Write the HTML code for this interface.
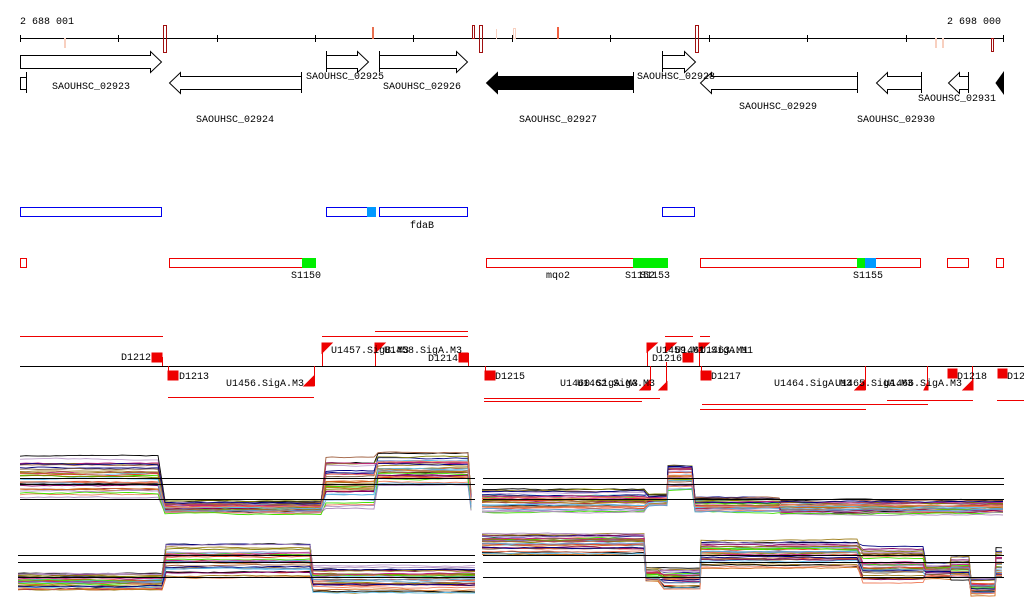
<!DOCTYPE html>
<html><head><meta charset="utf-8"><style>
html,body{margin:0;padding:0;background:#fff;}
svg{display:block;}
text{font-family:"Liberation Mono",monospace;font-size:10px;fill:#000;}
</style></head><body>
<svg id="s" width="1024" height="611" xmlns="http://www.w3.org/2000/svg">
<text x="20" y="24">2 688 001</text>
<text x="947" y="24">2 698 000</text>
<line x1="20" y1="38.5" x2="1004" y2="38.5" stroke="#000"/>
<g stroke="#000">
<line x1="20.5" y1="35" x2="20.5" y2="42"/><line x1="118.5" y1="35" x2="118.5" y2="42"/><line x1="217.5" y1="35" x2="217.5" y2="42"/><line x1="315.5" y1="35" x2="315.5" y2="42"/><line x1="413.5" y1="35" x2="413.5" y2="42"/><line x1="512.5" y1="35" x2="512.5" y2="42"/><line x1="610.5" y1="35" x2="610.5" y2="42"/><line x1="709.5" y1="35" x2="709.5" y2="42"/><line x1="807.5" y1="35" x2="807.5" y2="42"/><line x1="906.5" y1="35" x2="906.5" y2="42"/><line x1="1003.5" y1="35" x2="1003.5" y2="42"/>
</g>
<g fill="none">
<rect x="163.5" y="25.5" width="3" height="27" stroke="#a01010"/>
<rect x="472.5" y="25.5" width="2" height="13" stroke="#a01010"/>
<rect x="479.5" y="25.5" width="3" height="27" stroke="#a01010"/>
<rect x="695.5" y="25.5" width="3" height="27" stroke="#a01010"/>
<rect x="991.5" y="38.5" width="2" height="13" stroke="#a01010"/>
<rect x="372.5" y="27.5" width="1" height="11" stroke="#e87050"/>
<rect x="64.5" y="38.5" width="1" height="9" stroke="#f8d0c0"/>
<rect x="496" y="29" width="1" height="10" fill="#f8d0c0"/>
<rect x="513.5" y="28.5" width="2" height="10" stroke="#f8d0c0"/>
<rect x="935.5" y="38.5" width="1" height="9" stroke="#f8d0c0"/>
<rect x="942.5" y="38.5" width="1" height="9" stroke="#f8d0c0"/>
<rect x="557" y="27" width="2" height="12" fill="#f06040"/>
</g>
<g stroke="#000" fill="#fff">
<polygon points="20.5,55.5 150.5,55.5 150.5,51.5 161.5,62 150.5,72.5 150.5,68.5 20.5,68.5"/>
<rect x="20.5" y="77.5" width="6" height="12"/><line x1="26.5" y1="72" x2="26.5" y2="93"/>
<polygon points="301.5,76.5 180.5,76.5 180.5,72.5 169.5,83 180.5,93.5 180.5,89.5 301.5,89.5"/><line x1="301.5" y1="72" x2="301.5" y2="93"/>
<polygon points="326.5,55.5 357.5,55.5 357.5,51.5 368.5,62 357.5,72.5 357.5,68.5 326.5,68.5"/><line x1="326.5" y1="51" x2="326.5" y2="72"/>
<polygon points="379.5,55.5 456.5,55.5 456.5,51.5 467.5,62 456.5,72.5 456.5,68.5 379.5,68.5"/><line x1="379.5" y1="51" x2="379.5" y2="72"/>
<polygon points="633.5,76.5 497.5,76.5 497.5,72.5 486.5,83 497.5,93.5 497.5,89.5 633.5,89.5" fill="#000"/><line x1="633.5" y1="72" x2="633.5" y2="93"/>
<polygon points="662.5,55.5 684.5,55.5 684.5,51.5 695.5,62 684.5,72.5 684.5,68.5 662.5,68.5"/><line x1="662.5" y1="51" x2="662.5" y2="72"/>
<polygon points="857.5,76.5 711.5,76.5 711.5,72.5 700.5,83 711.5,93.5 711.5,89.5 857.5,89.5"/><line x1="857.5" y1="72" x2="857.5" y2="93"/>
<polygon points="921.5,76.5 887.5,76.5 887.5,72.5 876.5,83 887.5,93.5 887.5,89.5 921.5,89.5"/><line x1="921.5" y1="72" x2="921.5" y2="93"/>
<polygon points="968.5,76.5 959.5,76.5 959.5,72.5 948.5,83 959.5,93.5 959.5,89.5 968.5,89.5"/><line x1="968.5" y1="72" x2="968.5" y2="93"/>
<polygon points="1003.5,72.5 996,83 1003.5,93.5" fill="#000"/>
</g>
<text x="52" y="89">SAOUHSC_02923</text>
<text x="196" y="122">SAOUHSC_02924</text>
<text x="306" y="79">SAOUHSC_02925</text>
<text x="383" y="89">SAOUHSC_02926</text>
<text x="519" y="122">SAOUHSC_02927</text>
<text x="637" y="79">SAOUHSC_02928</text>
<text x="739" y="109">SAOUHSC_02929</text>
<text x="857" y="122">SAOUHSC_02930</text>
<text x="918" y="101">SAOUHSC_02931</text>
<g fill="none" stroke="#0000ee">
<rect x="20.5" y="207.5" width="141" height="9"/>
<rect x="326.5" y="207.5" width="49" height="9"/>
<rect x="379.5" y="207.5" width="88" height="9"/>
<rect x="662.5" y="207.5" width="32" height="9"/>
</g>
<rect x="367" y="207" width="9" height="10" fill="#0099ff"/>
<text x="410" y="228">fdaB</text>
<g fill="none" stroke="#ee0000">
<rect x="20.5" y="258.5" width="6" height="9"/>
<rect x="169.5" y="258.5" width="146" height="9"/>
<rect x="486.5" y="258.5" width="181" height="9"/>
<rect x="700.5" y="258.5" width="220" height="9"/>
<rect x="947.5" y="258.5" width="21" height="9"/>
<rect x="996.5" y="258.5" width="7" height="9"/>
</g>
<rect x="302" y="258" width="14" height="10" fill="#00ee00"/>
<rect x="633" y="258" width="35" height="10" fill="#00ee00"/>
<rect x="857" y="258" width="8" height="10" fill="#00ee00"/>
<rect x="865" y="258" width="11" height="10" fill="#0099ff"/>
<text x="291" y="278">S1150</text>
<text x="546" y="278">mqo2</text>
<text x="625" y="278">S1152</text><text x="640" y="278">S1153</text>
<text x="853" y="278">S1155</text>
<line x1="20" y1="366.5" x2="1024" y2="366.5" stroke="#000"/>
<g stroke="#ee0000">
<line x1="20" y1="336.5" x2="163" y2="336.5"/>
<line x1="322" y1="336.5" x2="468" y2="336.5"/>
<line x1="375" y1="331.5" x2="468" y2="331.5"/>
<line x1="168" y1="397.5" x2="314" y2="397.5"/>
<line x1="484" y1="398.5" x2="660" y2="398.5"/>
<line x1="484" y1="401.5" x2="642" y2="401.5"/>
<line x1="665" y1="336.5" x2="693" y2="336.5"/>
<line x1="700" y1="336.5" x2="710" y2="336.5"/>
<line x1="702" y1="404.5" x2="928" y2="404.5"/>
<line x1="700" y1="409.5" x2="866" y2="409.5"/>
<line x1="887" y1="400.5" x2="973" y2="400.5"/>
<line x1="997" y1="400.5" x2="1024" y2="400.5"/>
</g>
<g fill="#ee0000" stroke="#ee0000">
<rect x="152" y="353" width="10" height="9"/><line x1="162.5" y1="357" x2="162.5" y2="366"/>
<rect x="168" y="371" width="10" height="9"/><line x1="168.5" y1="366" x2="168.5" y2="372"/>
<polygon points="304,386 314,376 314,386"/><line x1="314.5" y1="366" x2="314.5" y2="386"/>
<polygon points="322,343 332,343 322,353"/><line x1="322.5" y1="343" x2="322.5" y2="366"/>
<polygon points="375,343 385,343 375,353"/><line x1="375.5" y1="343" x2="375.5" y2="366"/>
<rect x="459" y="353" width="9" height="9"/><line x1="468.5" y1="353" x2="468.5" y2="366"/>
<rect x="485" y="371" width="10" height="9"/><line x1="485.5" y1="366" x2="485.5" y2="372"/>
<polygon points="640,390 650,380 650,390"/><line x1="650.5" y1="366" x2="650.5" y2="390"/>
<polygon points="659,390 667,382 667,390"/><line x1="666.5" y1="362" x2="666.5" y2="390"/>
<polygon points="647,343 657,343 647,352"/><line x1="647.5" y1="343" x2="647.5" y2="366"/>
<polygon points="666,343 676,343 666,352"/>
<polygon points="699,343 709,343 699,352"/><line x1="699.5" y1="343" x2="699.5" y2="366"/>
<rect x="683" y="353" width="10" height="9"/>
<rect x="701" y="371" width="10" height="9"/><line x1="701.5" y1="366" x2="701.5" y2="372"/>
<polygon points="855,390 865,380 865,390"/><line x1="865.5" y1="366" x2="865.5" y2="390"/>
<polygon points="924,390 928,382 928,390"/><line x1="927.5" y1="366" x2="927.5" y2="390"/>
<rect x="948" y="369" width="9" height="9"/>
<polygon points="963,390 973,380 973,390"/><line x1="972.5" y1="366" x2="972.5" y2="390"/>
<rect x="998" y="369" width="9" height="9"/>
</g>
<text x="121" y="360">D1212</text>
<text x="179" y="379">D1213</text>
<text x="226" y="386">U1456.SigA.M3</text>
<text x="331" y="353">U1457.SigB.M3</text><text x="384" y="353">U1458.SigA.M3</text>
<text x="428" y="361">D1214</text>
<text x="495" y="379">D1215</text>
<text x="560" y="386">U1460.SigA.M3</text><text x="577" y="386">U1462.SigA.M3</text>
<text x="656" y="353">U1459.M1</text><text x="675" y="353">U1461.SigA.M1</text><text x="700" y="353">U1463.M1</text>
<text x="652" y="361">D1216</text>
<text x="711" y="379">D1217</text>
<text x="774" y="386">U1464.SigA.M3</text><text x="835" y="386">U1465.SigA.M3</text><text x="884" y="386">U1466.SigA.M3</text>
<text x="957" y="379">D1218</text>
<text x="1007" y="379">D1219</text>
<g id="plots"></g>
<g stroke="#000">
<line x1="20" y1="478.5" x2="475" y2="478.5"/><line x1="20" y1="484.5" x2="475" y2="484.5"/><line x1="20" y1="499.5" x2="475" y2="499.5"/>
<line x1="483" y1="478.5" x2="1004" y2="478.5"/><line x1="483" y1="484.5" x2="1004" y2="484.5"/><line x1="483" y1="499.5" x2="1004" y2="499.5"/>
<line x1="18" y1="555.5" x2="475" y2="555.5"/><line x1="18" y1="562.5" x2="475" y2="562.5"/><line x1="18" y1="577.5" x2="475" y2="577.5"/>
<line x1="483" y1="555.5" x2="1004" y2="555.5"/><line x1="483" y1="562.5" x2="1004" y2="562.5"/><line x1="483" y1="577.5" x2="1004" y2="577.5"/>
</g>
</svg>
<script>
(function(){
var seed=12345;function r(){seed=(seed*1103515245+12345)%2147483648;return seed/2147483648;}
var cols=["#000","#800060","#e04020","#d07020","#a08020","#60c0f0","#40e000","#b090c0","#808000","#c02080","#a06040","#000080","#f08060","#60a0d0","#c0a0d0","#806040"];
var P1=[[20,163,456,498],[165,325,500,514],[326,377,457,508],[378,470,449,485],[471,476,490,510],[482,648,488,512],[649,667,494,506],[668,694,462,490],[695,780,497,513],[781,1004,498,516]];
var P2=[[18,165,573,593],[166,312,542,582],[313,475,565,594],[482,645,532,556],[646,663,567,583],[664,700,568,590],[701,862,540,568],[863,925,546,583],[926,950,563,579],[951,970,557,580],[971,995,578,596],[996,1004,548,580]];
var g=document.getElementById("plots");var out="";
function panel(P,gapA,gapB){
 for(var t=0;t<30;t++){
  var c=cols[t%cols.length];var base=Math.pow(r(),0.8);var a=[],b=[];
  for(var i=0;i<P.length;i++){var s=P[i];var rk=Math.min(1,Math.max(0,base+(r()-0.5)*0.3));var n=0;
   for(var x=s[0];x<=s[1];x+=6){if(x>gapA&&x<gapB)continue;n+=(r()-0.5)*1.2;n*=0.85;var y=s[2]+rk*(s[3]-s[2])+n;
    (x<gapA+1?a:b).push(x+","+y.toFixed(1));}
  }
  out+='<polyline fill="none" stroke="'+c+'" stroke-width="0.9" points="'+a.join(" ")+'"/>';
  out+='<polyline fill="none" stroke="'+c+'" stroke-width="0.9" points="'+b.join(" ")+'"/>';
 }
}
panel(P1,476,482);panel(P2,476,482);
g.innerHTML=out;
})();
</script>
</body></html>
